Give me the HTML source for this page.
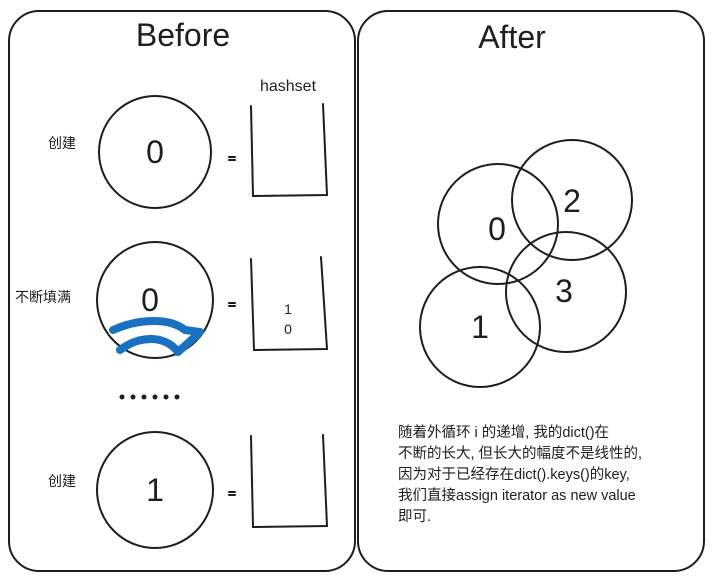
<!DOCTYPE html>
<html><head><meta charset="utf-8"><style>
html,body{margin:0;padding:0;background:#fff;width:712px;height:579px;overflow:hidden}
svg{display:block}
text{font-family:"Liberation Sans","Noto Sans CJK SC",sans-serif;fill:#1e1e1e}
</style></head><body>
<svg width="712" height="579" viewBox="0 0 712 579" xmlns="http://www.w3.org/2000/svg">
<g fill="none" stroke="#1e1e1e" stroke-width="2" stroke-linecap="round">
<rect x="9" y="11" width="346" height="560" rx="30"/>
<rect x="358" y="11" width="346" height="560" rx="30"/>
<circle cx="155" cy="152" r="56"/>
<circle cx="155" cy="300" r="58"/>
<circle cx="155" cy="490" r="58"/>
<path d="M251 106 L253 196 L327 195 L323 104"/>
<path d="M251 259 L254 350 L327 349 L321 257"/>
<path d="M251 436 L253 527 L327 526 L323 435"/>
<path d="M229 157 h6 M229 160 h6 M229 303 h6 M229 306 h6 M229 492 h6 M229 495 h6"/>
<circle cx="498" cy="224" r="60"/>
<circle cx="572" cy="200" r="60"/>
<circle cx="566" cy="292" r="60"/>
<circle cx="480" cy="327" r="60"/>
</g>
<g fill="none" stroke="#1971c2" stroke-width="8" stroke-linecap="round" stroke-linejoin="round">
<path d="M113 330 C140 318 170 318 185 330 L200 332"/>
<path d="M120 350 C140 335 165 335 178 352 L197 335"/>
</g>
<g fill="#1e1e1e"><circle cx="122" cy="397" r="2.5"/><circle cx="133" cy="397" r="2.5"/><circle cx="144" cy="397" r="2.5"/><circle cx="155" cy="397" r="2.5"/><circle cx="166" cy="397" r="2.5"/><circle cx="177" cy="397" r="2.5"/></g>
<text x="183" y="46" font-size="32" text-anchor="middle">Before</text>
<text x="512" y="48" font-size="32" text-anchor="middle">After</text>
<text x="288" y="91" font-size="16" text-anchor="middle">hashset</text>
<text x="155" y="163" font-size="32" text-anchor="middle">0</text>
<text x="150" y="311" font-size="32" text-anchor="middle">0</text>
<text x="155" y="501" font-size="32" text-anchor="middle">1</text>
<text x="288" y="314" font-size="14" text-anchor="middle">1</text>
<text x="288" y="334" font-size="14" text-anchor="middle">0</text>
<text x="48" y="148" font-size="14">创建</text>
<text x="15" y="302" font-size="14">不断填满</text>
<text x="48" y="486" font-size="14">创建</text>
<text x="497" y="240" font-size="32" text-anchor="middle">0</text>
<text x="572" y="212" font-size="32" text-anchor="middle">2</text>
<text x="564" y="302" font-size="32" text-anchor="middle">3</text>
<text x="480" y="338" font-size="32" text-anchor="middle">1</text>
<g font-size="14.5">
<text x="398" y="437">随着外循环 i 的递增, 我的dict()在</text>
<text x="398" y="458">不断的长大, 但长大的幅度不是线性的,</text>
<text x="398" y="479">因为对于已经存在dict().keys()的key,</text>
<text x="398" y="500">我们直接assign iterator as new value</text>
<text x="398" y="521">即可.</text>
</g>
</svg>
</body></html>
